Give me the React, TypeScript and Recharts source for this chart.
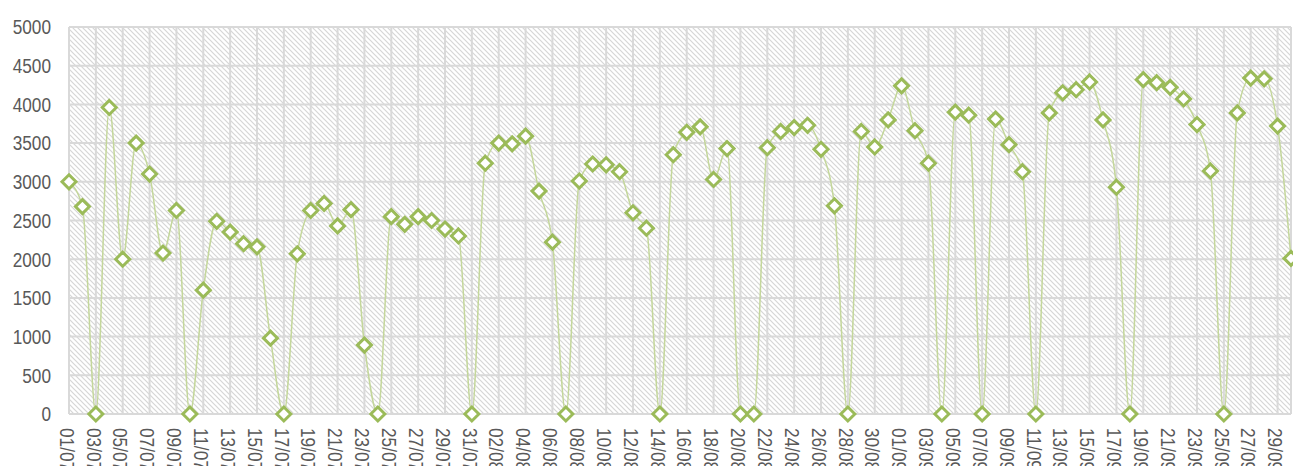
import { LineChart, Line, XAxis, YAxis, CartesianGrid } from 'recharts'

// dd/mm, 01/07 .. 30/09
const julyDays = Array.from({ length: 31 }, (_, i) => `${String(i + 1).padStart(2, '0')}/07`)
const augustDays = Array.from({ length: 31 }, (_, i) => `${String(i + 1).padStart(2, '0')}/08`)
const septemberDays = Array.from({ length: 30 }, (_, i) => `${String(i + 1).padStart(2, '0')}/09`)
const dates = [...julyDays, ...augustDays, ...septemberDays]

const julyValues = [
  3000, 2680, 0, 3960, 2000, 3500, 3100, 2080, 2630, 0,
  1600, 2490, 2350, 2200, 2160, 980, 0, 2070, 2630, 2720,
  2430, 2640, 890, 0, 2550, 2450, 2550, 2500, 2390, 2300, 0,
]
const augustValues = [
  3240, 3500, 3490, 3590, 2880, 2220, 0, 3010, 3230, 3220,
  3130, 2600, 2400, 0, 3350, 3640, 3710, 3030, 3430, 0,
  0, 3440, 3650, 3700, 3730, 3420, 2690, 0, 3650, 3450, 3800,
]
const septemberValues = [
  4240, 3660, 3240, 0, 3900, 3860, 0, 3810, 3480, 3130,
  0, 3890, 4150, 4190, 4290, 3800, 2930, 0, 4320, 4280,
  4220, 4070, 3740, 3140, 0, 3890, 4340, 4330, 3720, 2010,
]
const values = [...julyValues, ...augustValues, ...septemberValues]

const yTicks = [0, 500, 1000, 1500, 2000, 2500, 3000, 3500, 4000, 4500, 5000]
const xTicks = dates.filter((_, i) => i % 2 === 0)

const chartData = dates.map((date, i) => ({ date, value: values[i] }))

// fonte estreita simulada: Liberation Sans comprimida na horizontal
const FONT = "'Liberation Sans', Arial, sans-serif"
const FONT_SIZE = 20.5
const NARROW = 0.84
const TEXT_COLOR = '#595959'
const GRID_COLOR = '#d9d9d9'
const LINE_COLOR = '#c4d79b'
const MARKER_COLOR = '#9bbb59'

// losango vazado, como o marcador do Excel
const DiamondDot = ({ cx, cy }: { cx?: number; cy?: number }) => {
  if (cx === undefined || cy === undefined) return null
  const r = 7
  return (
    <path
      d={`M${cx},${cy - r} L${cx + r},${cy} L${cx},${cy + r} L${cx - r},${cy} Z`}
      fill="#ffffff"
      stroke={MARKER_COLOR}
      strokeWidth={3}
    />
  )
}

const RotatedTick = ({ x, y, payload }: { x?: number; y?: number; payload?: { value: string } }) => {
  if (x === undefined || y === undefined || !payload) return null
  return (
    <text
      transform={`translate(${x}, ${y}) rotate(90) scale(${NARROW}, 1)`}
      textAnchor="start"
      dy="0.45em"
      fill={TEXT_COLOR}
      style={{ fontSize: FONT_SIZE, fontFamily: FONT }}
    >
      {payload.value}
    </text>
  )
}

const LeftTick = ({ x, y, payload }: { x?: number; y?: number; payload?: { value: number } }) => {
  if (x === undefined || y === undefined || !payload) return null
  return (
    <text
      transform={`translate(${x}, ${y}) scale(${NARROW}, 1)`}
      textAnchor="end"
      dy="0.36em"
      fill={TEXT_COLOR}
      style={{ fontSize: FONT_SIZE, fontFamily: FONT }}
    >
      {payload.value}
    </text>
  )
}

export default function App() {
  return (
    <div style={{ position: 'absolute', left: 0, top: 0, background: '#ffffff' }}>
      <LineChart
        width={1293}
        height={466}
        data={chartData}
        margin={{ top: 27, right: 2, left: 0, bottom: 0 }}
      >
        <defs>
          <pattern id="hatch" width="5" height="5" patternUnits="userSpaceOnUse">
            <rect width="5" height="5" fill="#ffffff" />
            <path d="M-1,-1 L6,6 M-1,4 L1,6 M4,-1 L6,1" stroke="#d6d6d6" strokeWidth={1.2} />
          </pattern>
        </defs>
        <CartesianGrid
          stroke={GRID_COLOR}
          strokeWidth={2}
          fill="url(#hatch)"
          fillOpacity={1}
        />
        <XAxis
          dataKey="date"
          ticks={xTicks}
          interval={0}
          height={52}
          axisLine={false}
          tickLine={false}
          tickSize={0}
          tick={(props: any) => <RotatedTick x={props.x} y={props.y + 12} payload={props.payload} />}
        />
        <YAxis
          domain={[0, 5000]}
          ticks={yTicks}
          width={69}
          axisLine={false}
          tickLine={false}
          tickSize={0}
          tickMargin={18}
          tick={(props: any) => <LeftTick x={props.x} y={props.y} payload={props.payload} />}
        />
        <Line
          type="monotone"
          dataKey="value"
          stroke={LINE_COLOR}
          strokeWidth={1.5}
          dot={(props: any) => <DiamondDot key={props.index} cx={props.cx} cy={props.cy} />}
          activeDot={false}
          isAnimationActive={false}
        />
      </LineChart>
    </div>
  )
}
